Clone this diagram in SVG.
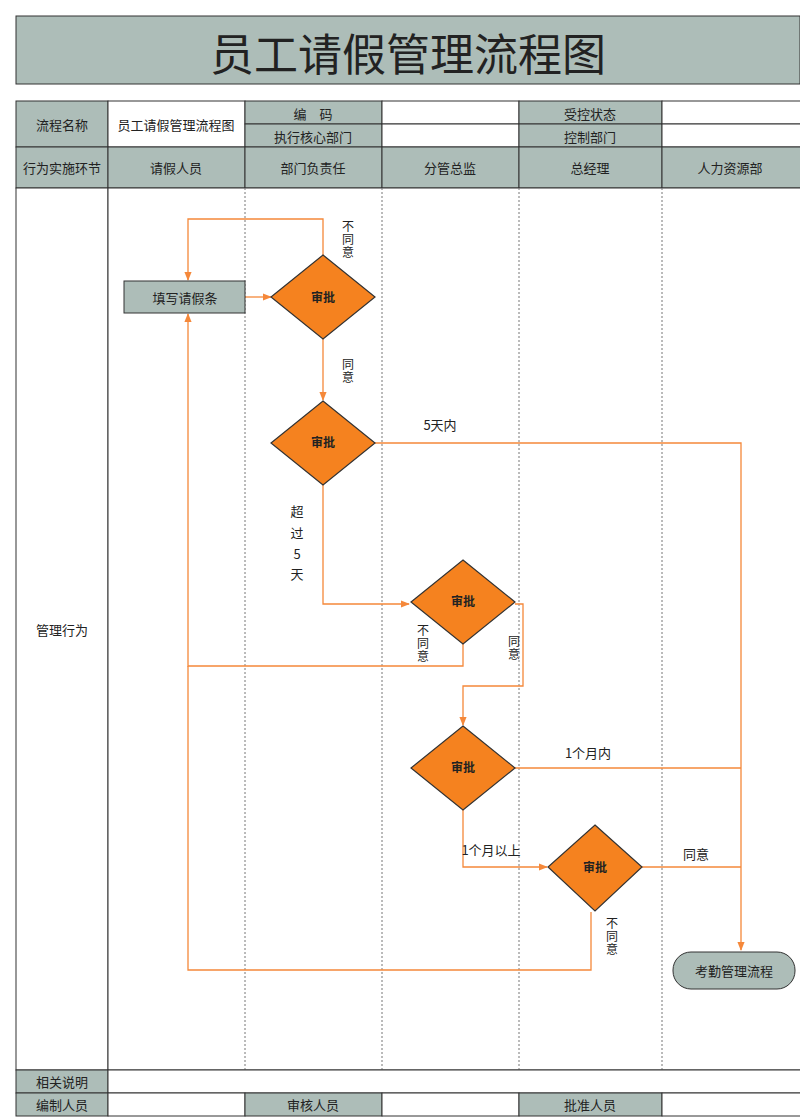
<svg xmlns="http://www.w3.org/2000/svg" width="800" height="1117" viewBox="0 0 800 1117">
<defs>
<style>
text{font-family:"Noto Sans CJK SC","Liberation Sans",sans-serif;fill:#222;font-size:13px;text-anchor:middle;dominant-baseline:central}
.h{fill:#adbdb8;stroke:#333;stroke-width:1}
.w{fill:#fff;stroke:#333;stroke-width:1}
.d{stroke:#777;stroke-width:1;stroke-dasharray:2,2}
.c{fill:none;stroke:#f5883a;stroke-width:1.3}
.dm{fill:#f5821f;stroke:#333;stroke-width:1.2}
.b{font-weight:bold;font-size:12px}
.v{font-size:12px;writing-mode:vertical-rl;text-orientation:upright;letter-spacing:1px}
</style>
<marker id="a" viewBox="0 0 10 10" refX="9" refY="5" markerWidth="7" markerHeight="7" orient="auto"><path d="M0,1 L10,5 L0,9 z" fill="#f5883a"/></marker>
</defs>
<rect width="800" height="1117" fill="#fff"/>
<g id="title"><rect x="16" y="16" width="784" height="68" class="h"/><text x="408" y="52" style="font-size:44px">员工请假管理流程图</text></g>
<g id="table">
<rect x="16" y="101" width="92" height="46" class="h"/><text x="62" y="124">流程名称</text>
<rect x="108" y="101" width="137" height="46" class="w"/><text x="176" y="124">员工请假管理流程图</text>
<rect x="245" y="101" width="137" height="23" class="h"/><text x="313" y="113">编　码</text>
<rect x="245" y="124" width="137" height="23" class="h"/><text x="313" y="136">执行核心部门</text>
<rect x="382" y="101" width="137" height="23" class="w"/><rect x="382" y="124" width="137" height="23" class="w"/>
<rect x="519" y="101" width="143" height="23" class="h"/><text x="590" y="113">受控状态</text>
<rect x="519" y="124" width="143" height="23" class="h"/><text x="590" y="136">控制部门</text>
<rect x="662" y="101" width="140" height="23" class="w"/><rect x="662" y="124" width="140" height="23" class="w"/>
<rect x="16" y="147" width="92" height="41" class="h"/><text x="62" y="167">行为实施环节</text>
<rect x="108" y="147" width="137" height="41" class="h"/><text x="176" y="167">请假人员</text>
<rect x="245" y="147" width="137" height="41" class="h"/><text x="313" y="167">部门负责任</text>
<rect x="382" y="147" width="137" height="41" class="h"/><text x="450" y="167">分管总监</text>
<rect x="519" y="147" width="143" height="41" class="h"/><text x="590" y="167">总经理</text>
<rect x="662" y="147" width="140" height="41" class="h"/><text x="730" y="167">人力资源部</text>
<rect x="16" y="188" width="92" height="882" class="w"/><text x="62" y="629">管理行为</text>
<rect x="108" y="188" width="694" height="882" class="w"/>
<line x1="245" y1="188" x2="245" y2="1070" class="d"/><line x1="382" y1="188" x2="382" y2="1070" class="d"/>
<line x1="519" y1="188" x2="519" y2="1070" class="d"/><line x1="662" y1="188" x2="662" y2="1070" class="d"/>
<rect x="16" y="1070" width="92" height="23" class="h"/><text x="62" y="1081">相关说明</text>
<rect x="108" y="1070" width="694" height="23" class="w"/>
<rect x="16" y="1093" width="92" height="23" class="h"/><text x="62" y="1104">编制人员</text>
<rect x="108" y="1093" width="137" height="23" class="w"/>
<rect x="245" y="1093" width="137" height="23" class="h"/><text x="313" y="1104">审核人员</text>
<rect x="382" y="1093" width="137" height="23" class="w"/>
<rect x="519" y="1093" width="143" height="23" class="h"/><text x="590" y="1104">批准人员</text>
<rect x="662" y="1093" width="140" height="23" class="w"/>
</g>
<g id="connectors">
<path d="M245,297 H271" class="c" marker-end="url(#a)"/>
<path d="M323,255 V219 H188 V280" class="c" marker-end="url(#a)"/>
<path d="M323,339 V400" class="c" marker-end="url(#a)"/>
<path d="M375,443 H741 V950" class="c" marker-end="url(#a)"/>
<path d="M323,485 V604 H409" class="c" marker-end="url(#a)"/>
<path d="M463,644 V666 H188 V314" class="c" marker-end="url(#a)"/>
<path d="M515,604 H523 V686 H463 V725" class="c" marker-end="url(#a)"/>
<path d="M515,768 H741" class="c"/>
<path d="M463,810 V867 H547" class="c" marker-end="url(#a)"/>
<path d="M642,867 H741" class="c"/>
<path d="M591,912 V970 H188 V666" class="c"/>
<text x="348" y="240" class="v">不同意</text>
<text x="348" y="371" class="v">同意</text>
<text x="440" y="424">5天内</text>
<text x="297" y="510">超</text><text x="297" y="532">过</text><text x="297" y="553">5</text><text x="297" y="573">天</text>
<text x="423" y="644" class="v">不同意</text>
<text x="514" y="648" class="v">同意</text>
<text x="588" y="752">1个月内</text>
<text x="491" y="849">1个月以上</text>
<text x="696" y="853">同意</text>
<text x="612" y="937" class="v">不同意</text>
</g>
<g id="n_fill"><rect x="124" y="281" width="121" height="32" class="h"/><text x="185" y="297">填写请假条</text></g>
<g id="n_d1"><polygon points="323,255 375,297 323,339 271,297" class="dm"/><text x="323" y="296" class="b">审批</text></g>
<g id="n_d2"><polygon points="323,401 375,443 323,485 271,443" class="dm"/><text x="323" y="441" class="b">审批</text></g>
<g id="n_d3"><polygon points="463,560 515,602 463,644 411,602" class="dm"/><text x="463" y="600" class="b">审批</text></g>
<g id="n_d4"><polygon points="463,726 515,768 463,810 411,768" class="dm"/><text x="463" y="766" class="b">审批</text></g>
<g id="n_d5"><polygon points="595,825 642,867 595,911 548,867" class="dm"/><text x="595" y="866" class="b">审批</text></g>
<g id="n_end"><rect x="673" y="952" width="122" height="37" rx="18" class="h"/><text x="734" y="970">考勤管理流程</text></g>
</svg>
